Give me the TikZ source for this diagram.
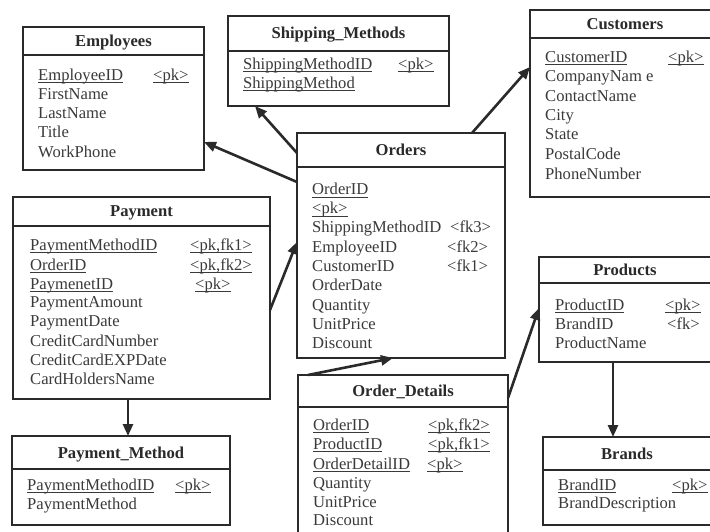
\documentclass[tikz,border=0pt]{standalone}
\usepackage{fontspec}
\setmainfont{Liberation Serif}
\usetikzlibrary{arrows.meta,calc}
\definecolor{ink}{HTML}{3A3A3A}
\definecolor{edge}{HTML}{2A2A2A}
\newlength\ulw
\newcommand\myul[1]{\settowidth\ulw{#1}\rlap{\rule[-2.4pt]{\ulw}{0.9pt}}#1}
\tikzset{
  tbl/.style={draw=edge, line width=2.4pt, fill=white, rectangle, anchor=north west, outer sep=0pt, inner sep=0pt},
  ttl/.style={font=\fontsize{16.6}{19}\selectfont\bfseries, text=edge, anchor=base, inner sep=0pt},
  fld/.style={font=\fontsize{16.6}{19}\selectfont, text=ink, anchor=base west, inner sep=0pt},
  rel/.style={draw=edge, line width=2.6pt, -{Triangle[length=12pt,width=10pt]}},
  sepline/.style={draw=edge, line width=1.8pt},
}
\begin{document}
\begin{tikzpicture}[x=1pt,y=-1pt]
\useasboundingbox (0,0) rectangle (710,532);
\clip (0,0) rectangle (710,532);
\fill[white] (0,0) rectangle (710,532);

% ---------- Employees
\node[tbl, minimum width=181pt, minimum height=143pt] (emp) at (23,27) {};
\draw[sepline] (23,55) -- (204,55);
\node[ttl] (empT) at (113.5,46.5) {Employees};
\node[fld] (emp1) at (38,81) {\myul{EmployeeID}};
\node[fld] (emp1k) at (153,81) {\myul{<pk>}};
\node[fld] (emp2) at (38,100) {FirstName};
\node[fld] (emp3) at (38,119) {LastName};
\node[fld] (emp4) at (38,138) {Title};
\node[fld] (emp5) at (38,158) {WorkPhone};

% ---------- Shipping_Methods
\node[tbl, minimum width=221pt, minimum height=90pt] (shp) at (228,16) {};
\draw[sepline] (228,51) -- (449,51);
\node[ttl] (shpT) at (338.5,39) {Shipping\_Methods};
\node[fld] (shp1) at (243,70) {\myul{ShippingMethodID}};
\node[fld] (shp1k) at (398,70) {\myul{<pk>}};
\node[fld] (shp2) at (243,89) {\myul{ShippingMethod}};

% ---------- Customers (cut by the right edge)
\node[tbl, minimum width=190pt, minimum height=187pt] (cus) at (530,10) {};
\draw[sepline] (530,38) -- (720,38);
\node[ttl] (cusT) at (625,29.5) {Customers};
\node[fld] (cus1) at (545,63) {\myul{CustomerID}};
\node[fld] (cus1k) at (668,63) {\myul{<pk>}};
\node[fld] (cus2) at (545,82) {CompanyNam e};
\node[fld] (cus3) at (545,102) {ContactName};
\node[fld] (cus4) at (545,121) {City};
\node[fld] (cus5) at (545,140) {State};
\node[fld] (cus6) at (545,160) {PostalCode};
\node[fld] (cus7) at (545,179) {PhoneNumber};

% ---------- Payment
\node[tbl, minimum width=257pt, minimum height=202pt] (pay) at (13,197) {};
\draw[sepline] (13,226) -- (270,226);
\node[ttl] (payT) at (141.5,217) {Payment};
\node[fld] (pay1) at (30,250) {\myul{PaymentMethodID}};
\node[fld] (pay1k) at (190,250) {\myul{<pk,fk1>}};
\node[fld] (pay2) at (30,270) {\myul{OrderID}};
\node[fld] (pay2k) at (190,270) {\myul{<pk,fk2>}};
\node[fld] (pay3) at (30,289) {\myul{PaymenetID}};
\node[fld] (pay3k) at (195,289) {\myul{<pk>}};
\node[fld] (pay4) at (30,307) {PaymentAmount};
\node[fld] (pay5) at (30,326) {PaymentDate};
\node[fld] (pay6) at (30,346) {CreditCardNumber};
\node[fld] (pay7) at (30,365) {CreditCardEXPDate};
\node[fld] (pay8) at (30,384) {CardHoldersName};

% ---------- Orders
\node[tbl, minimum width=208pt, minimum height=225pt] (ord) at (297,133) {};
\draw[sepline] (297,167) -- (505,167);
\node[ttl] (ordT) at (401,155.5) {Orders};
\node[fld] (ord1) at (312,195) {\myul{OrderID}};
\node[fld] (ord2) at (312,214) {\myul{<pk>}};
\node[fld] (ord3) at (312,233) {ShippingMethodID};
\node[fld] (ord3k) at (450,233) {<fk3>};
\node[fld] (ord4) at (312,252) {EmployeeID};
\node[fld] (ord4k) at (447,252) {<fk2>};
\node[fld] (ord5) at (312,271) {CustomerID};
\node[fld] (ord5k) at (447,271) {<fk1>};
\node[fld] (ord6) at (312,290) {OrderDate};
\node[fld] (ord7) at (312,310) {Quantity};
\node[fld] (ord8) at (312,329) {UnitPrice};
\node[fld] (ord9) at (312,348) {Discount};

% ---------- Payment_Method
\node[tbl, minimum width=218pt, minimum height=89pt] (pm) at (12,436) {};
\draw[sepline] (12,469) -- (230,469);
\node[ttl] (pmT) at (121,458) {Payment\_Method};
\node[fld] (pm1) at (27,490) {\myul{PaymentMethodID}};
\node[fld] (pm1k) at (175,490) {\myul{<pk>}};
\node[fld] (pm2) at (27,509) {PaymentMethod};

% ---------- Order_Details (cut by the bottom edge)
\node[tbl, minimum width=210pt, minimum height=175pt] (od) at (298,375) {};
\draw[sepline] (298,407) -- (508,407);
\node[ttl] (odT) at (403,396.5) {Order\_Details};
\node[fld] (od1) at (313,430) {\myul{OrderID}};
\node[fld] (od1k) at (428,430) {\myul{<pk,fk2>}};
\node[fld] (od2) at (313,449) {\myul{ProductID}};
\node[fld] (od2k) at (428,449) {\myul{<pk,fk1>}};
\node[fld] (od3) at (313,469) {\myul{OrderDetailID}};
\node[fld] (od3k) at (427,469) {\myul{<pk>}};
\node[fld] (od4) at (313,488) {Quantity};
\node[fld] (od5) at (313,507) {UnitPrice};
\node[fld] (od6) at (313,525) {Discount};

% ---------- Products (cut by the right edge)
\node[tbl, minimum width=181pt, minimum height=105pt] (prod) at (539,257) {};
\draw[sepline] (539,283) -- (720,283);
\node[ttl] (prodT) at (625,275.5) {Products};
\node[fld] (prod1) at (555,310) {\myul{ProductID}};
\node[fld] (prod1k) at (665,310) {\myul{<pk>}};
\node[fld] (prod2) at (555,329) {BrandID};
\node[fld] (prod2k) at (667,329) {<fk>};
\node[fld] (prod3) at (555,348) {ProductName};

% ---------- Brands (cut by the right edge)
\node[tbl, minimum width=177pt, minimum height=88pt] (brd) at (543,437) {};
\draw[sepline] (543,470) -- (720,470);
\node[ttl] (brdT) at (627,459) {Brands};
\node[fld] (brd1) at (558,490) {\myul{BrandID}};
\node[fld] (brd1k) at (672,490) {\myul{<pk>}};
\node[fld] (brd2) at (558,508) {BrandDescription};

% ---------- relationships
\draw[rel] ($(ord.north west)+(0,20)$) -- ($(shp.south west)+(27,0)$);
\draw[rel] ($(ord.north west)+(0,49)$) -- ($(emp.north east)+(0,115)$);
\draw[rel] ($(ord.north west)+(175,0)$) -- ($(cus.north west)+(0,57)$);
\draw[rel] ($(pay.north east)+(0,113)$) -- ($(ord.north west)+(0,109)$);
\draw[rel] ($(pay.south west)+(115,0)$) -- ($(pm.north west)+(116,0)$);
\draw[rel] ($(od.north west)+(10,0)$) -- ($(ord.south west)+(96,0)$);
\draw[rel] ($(od.north east)+(0,23)$) -- ($(prod.north west)+(0,51)$);
\draw[rel] ($(prod.south west)+(74,0)$) -- ($(brd.north west)+(70,0)$);
\end{tikzpicture}
\end{document}
